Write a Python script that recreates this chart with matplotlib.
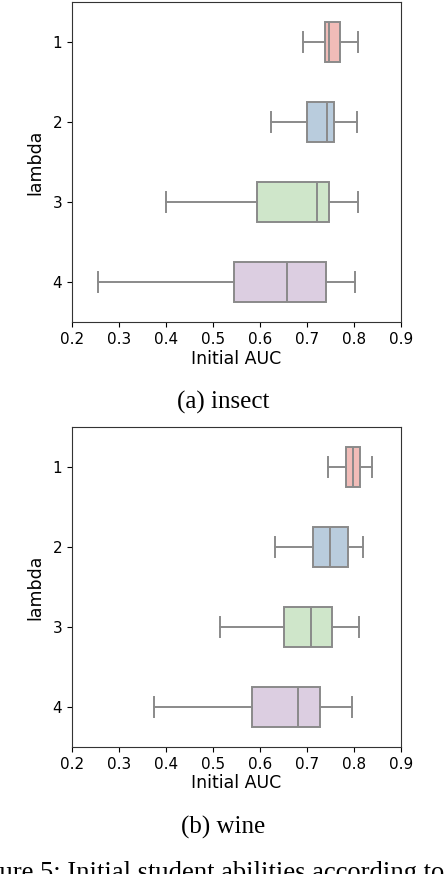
import matplotlib
matplotlib.use('Agg')
import matplotlib.pyplot as plt
import seaborn as sns

# Box statistics (Initial AUC per lambda)
lambdas = ['1', '2', '3', '4']

insect_low = [0.692, 0.623, 0.401, 0.255]
insect_q1 = [0.738, 0.699, 0.594, 0.545]
insect_med = [0.747, 0.742, 0.722, 0.658]
insect_q3 = [0.770, 0.757, 0.747, 0.741]
insect_high = [0.808, 0.806, 0.808, 0.802]

wine_low = [0.744, 0.632, 0.515, 0.374]
wine_q1 = [0.784, 0.713, 0.652, 0.584]
wine_med = [0.797, 0.748, 0.709, 0.680]
wine_q3 = [0.813, 0.787, 0.754, 0.727]
wine_high = [0.838, 0.820, 0.811, 0.796]

xticks = [0.2, 0.3, 0.4, 0.5, 0.6, 0.7, 0.8, 0.9]

colors = sns.color_palette('Pastel1', 4, desat=0.75)
line_gray = '#8a8a8a'


def make_stats(low, q1, med, q3, high):
    return [dict(whislo=a, q1=b, med=c, q3=d, whishi=e, fliers=[])
            for a, b, c, d, e in zip(low, q1, med, q3, high)]


def draw(ax, stats):
    line = dict(color=line_gray, linewidth=1.4)
    bp = ax.bxp(stats, positions=range(len(stats)), widths=0.5,
                orientation='horizontal', patch_artist=True, showfliers=False,
                boxprops=dict(edgecolor=line_gray, linewidth=1.4),
                medianprops=line, whiskerprops=line, capprops=line)
    for patch, c in zip(bp['boxes'], colors):
        patch.set_facecolor(c)
    ax.set_xlim(0.2, 0.9)
    ax.set_ylim(3.5, -0.5)
    ax.set_xticks(xticks)
    ax.set_xticklabels([f'{t:.1f}' for t in xticks])
    ax.set_yticks(range(len(lambdas)))
    ax.set_yticklabels(lambdas)
    ax.set_xlabel('Initial AUC', fontsize=12.5, labelpad=2)
    ax.set_ylabel('lambda', fontsize=12.5, labelpad=6)
    ax.tick_params(labelsize=11)
    for s in ax.spines.values():
        s.set_color('#333333')


fig = plt.figure(figsize=(4.48, 8.74), dpi=100)
ax1 = fig.add_axes([72 / 448, 1 - 322 / 874, 329 / 448, 320 / 874])
ax2 = fig.add_axes([72 / 448, 1 - 747 / 874, 329 / 448, 320 / 874])

draw(ax1, make_stats(insect_low, insect_q1, insect_med, insect_q3, insect_high))
draw(ax2, make_stats(wine_low, wine_q1, wine_med, wine_q3, wine_high))

serif = 'Liberation Serif'
fig.text(223 / 448, 1 - 402 / 874, '(a) insect', ha='center', va='center',
         fontsize=18, family=serif)
fig.text(223 / 448, 1 - 827 / 874, '(b) wine', ha='center', va='center',
         fontsize=18, family=serif)
# figure caption, cut off by the page edges as in the source
fig.text(-36 / 448, 1 - 880.5 / 874, 'Figure 5: Initial student abilities according to the',
         ha='left', va='baseline', fontsize=19.2, family=serif)

fig.savefig('out.png', dpi=100)
